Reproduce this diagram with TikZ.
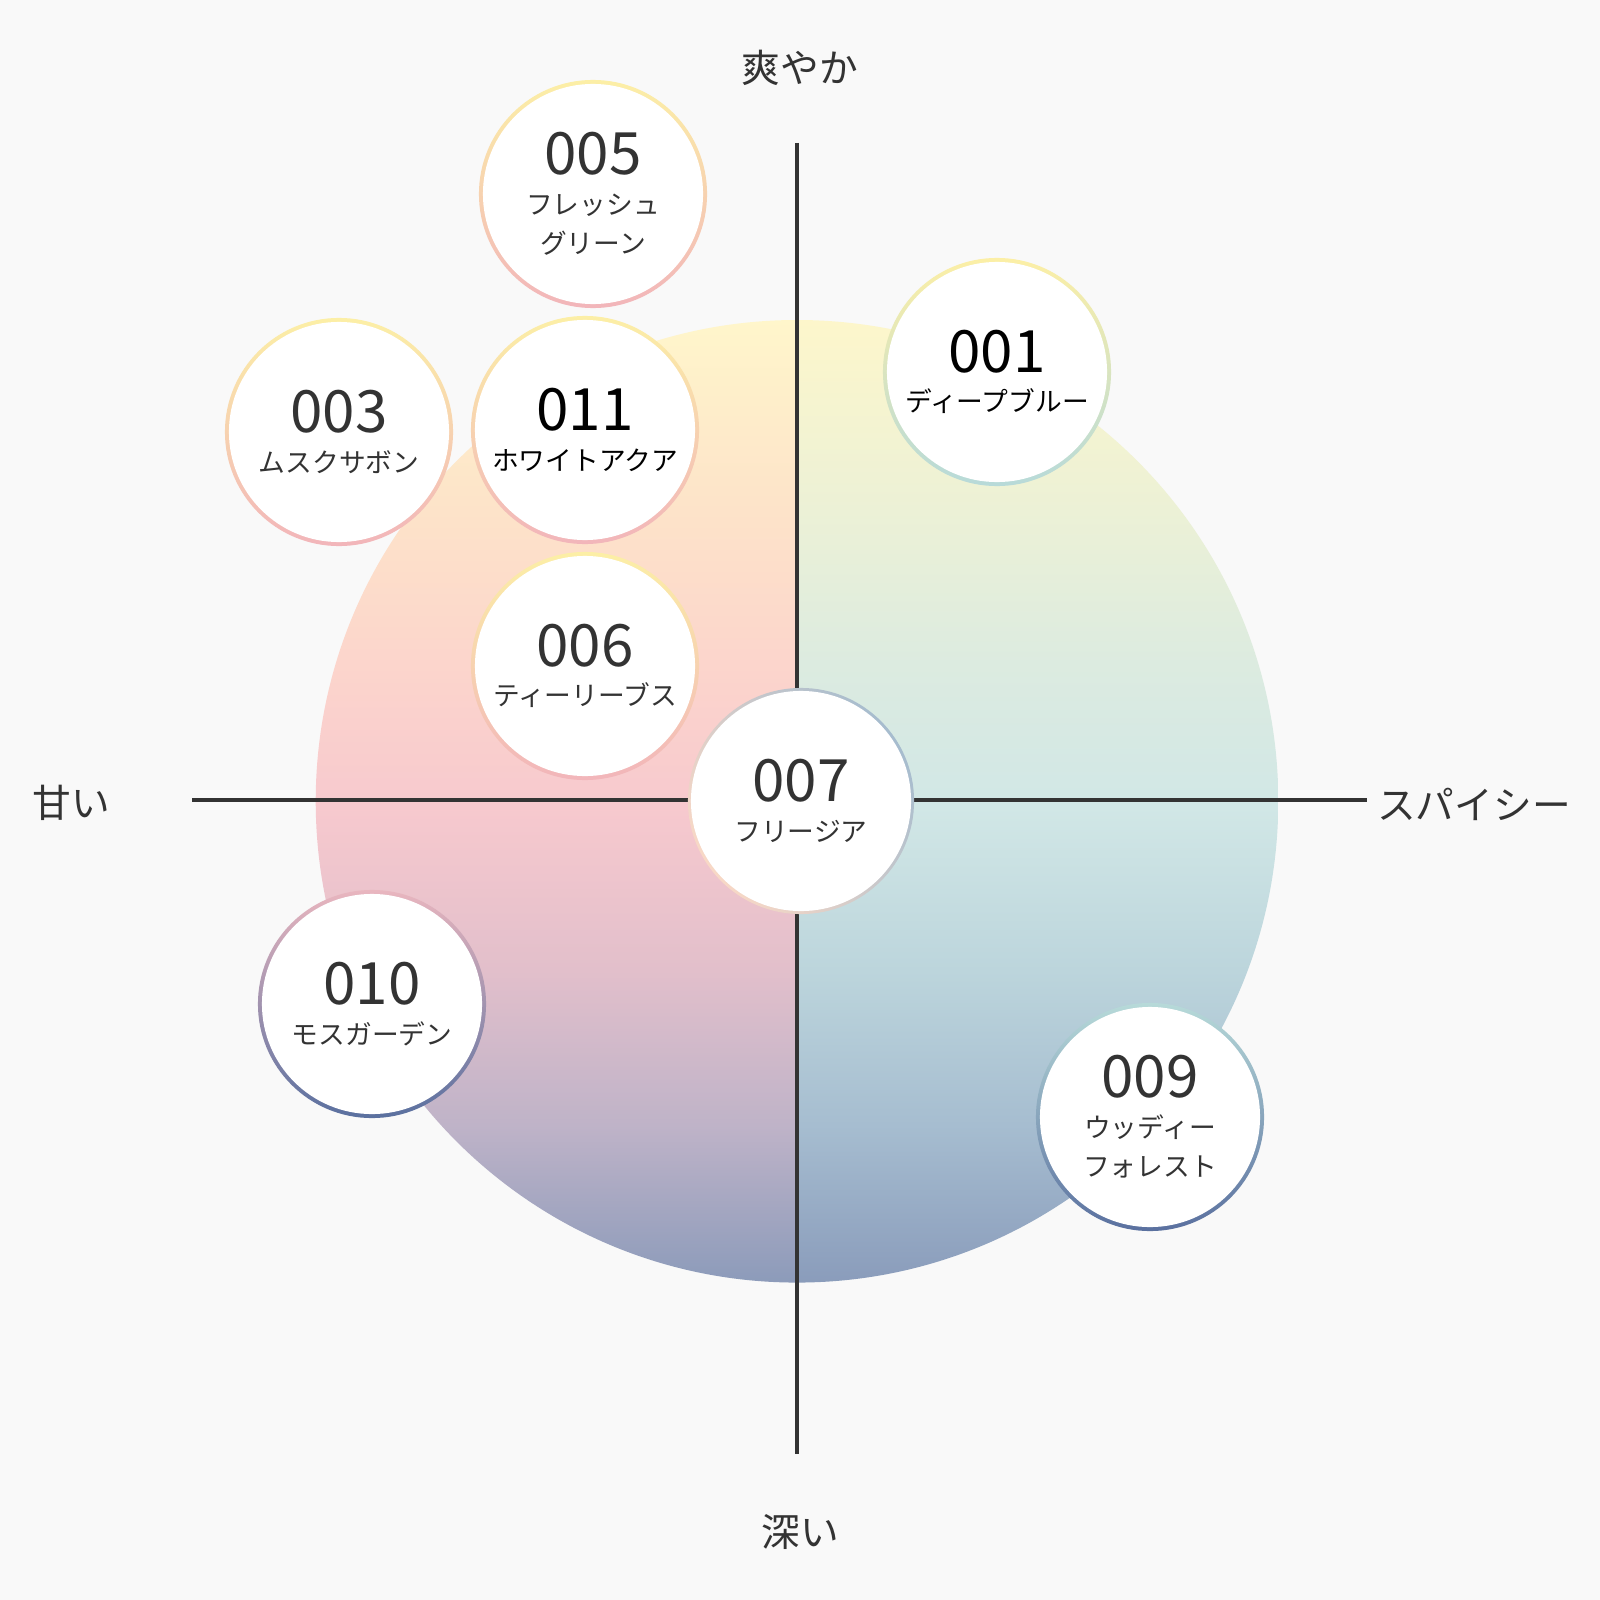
\documentclass[tikz,border=0pt]{standalone}
\usepackage{fontspec}
\setmainfont{Noto Sans CJK JP}
\usetikzlibrary{positioning}
\definecolor{paper}{HTML}{F9F9F9}
\definecolor{ink}{HTML}{333333}
\definecolor{ringyellow}{HTML}{FCEFA6}
\definecolor{ringpink}{HTML}{F2B5BA}
\definecolor{ringteal}{HTML}{B7DAD9}
\definecolor{ringblue}{HTML}{5A709F}
\definecolor{ringrose}{HTML}{E9B6BF}
\definecolor{ringpeach}{HTML}{F8D8C6}
\definecolor{ringsteel}{HTML}{A6BCCE}
\definecolor{sw0}{HTML}{8C9BBA}
\definecolor{sw1}{HTML}{BFB3C8}
\definecolor{sw2}{HTML}{E2BFCB}
\definecolor{sw3}{HTML}{F7C9CE}
\definecolor{sw4}{HTML}{FCD5CC}
\definecolor{sw5}{HTML}{FDE3C9}
\definecolor{sw6}{HTML}{FFF6CB}
\definecolor{sp0}{HTML}{8A9CBB}
\definecolor{sp1}{HTML}{A6BDD0}
\definecolor{sp2}{HTML}{BCD5DC}
\definecolor{sp3}{HTML}{D1E7E6}
\definecolor{sp4}{HTML}{DCEBE0}
\definecolor{sp5}{HTML}{ECF1D6}
\definecolor{sp6}{HTML}{FDF6CB}
\pgfdeclareverticalshading{sweetfade}{100bp}{color(0bp)=(sw0); color(25bp)=(sw0);
  color(33.2bp)=(sw1); color(41.2bp)=(sw2); color(49.7bp)=(sw3);
  color(57.1bp)=(sw4); color(65.1bp)=(sw5); color(75bp)=(sw6); color(100bp)=(sw6)}
\pgfdeclareverticalshading{spicyfade}{100bp}{color(0bp)=(sp0); color(25bp)=(sp0);
  color(33.2bp)=(sp1); color(41.2bp)=(sp2); color(49.7bp)=(sp3);
  color(57.1bp)=(sp4); color(65.1bp)=(sp5); color(75bp)=(sp6); color(100bp)=(sp6)}
\newcommand{\bignum}{\fontsize{16.6}{16.6}\selectfont}

\begin{document}
\begin{tikzpicture}[x=0.01cm, y=-0.01cm,
  axis/.style={line width=1.3pt, ink},
  pole/.style={font=\fontsize{11}{13}\selectfont, text=ink, inner sep=0pt},
  scent/.style={circle, fill=white, minimum size=2.2cm, inner sep=0pt,
    align=center, text=ink, font=\fontsize{7.6}{11.2}\selectfont},
  warmring/.style={top color=ringyellow, bottom color=ringpink},
  fieldring/.style={top color=ringyellow, bottom color=ringteal},
  duskring/.style={top color=ringrose, bottom color=ringblue},
  woodring/.style={top color=ringteal, bottom color=ringblue},
  midring/.style={top color=ringsteel, bottom color=ringpeach, shading angle=-55}
]
\fill[paper] (0,0) rectangle (1600,1600);
\coordinate (hub) at (797,801);
\shade[shading=sweetfade] (hub) ++(0,-481)
  arc[start angle=90, end angle=270, radius=4.81cm] -- cycle;
\shade[shading=spicyfade] (hub) ++(0,-481)
  arc[start angle=90, end angle=-90, radius=4.81cm] -- cycle;
\coordinate (up) at (797,143);
\coordinate (down) at (797,1454);
\coordinate (west) at (192,800);
\coordinate (east) at (1367,800);
\draw[axis] (up) -- (down);
\draw[axis] (west) -- (east);
\node[pole] (fresh) at (800,68) {爽やか};
\node[pole] (deep) at (800,1532) {深い};
\node[pole] (sweet) at (71,803) {甘い};
\node[pole] (spicy) at (1474,804) {スパイシー};
\shade[warmring] (593,194) circle (1.14cm);
\node[scent] (s005) at (593,194) {{\bignum 005}\\フレッシュ\\グリーン};
\shade[warmring] (339,432) circle (1.14cm);
\node[scent] (s003) at (339,432) {{\bignum 003}\\ムスクサボン};
\shade[warmring] (585,430) circle (1.14cm);
\node[scent, text=black] (s011) at (585,430) {{\bignum 011}\\ホワイトアクア};
\shade[fieldring] (997,372) circle (1.14cm);
\node[scent, text=black] (s001) at (997,372) {{\bignum 001}\\ディープブルー};
\shade[warmring] (585,666) circle (1.14cm);
\node[scent] (s006) at (585,666) {{\bignum 006}\\ティーリーブス};
\shade[midring] (801,801) circle (1.13cm);
\node[scent] (s007) at (801,801) {{\bignum 007}\\フリージア};
\shade[duskring] (372,1004) circle (1.14cm);
\node[scent] (s010) at (372,1004) {{\bignum 010}\\モスガーデン};
\shade[woodring] (1150,1117) circle (1.14cm);
\node[scent] (s009) at (1150,1117) {{\bignum 009}\\ウッディー\\フォレスト};
\end{tikzpicture}
\end{document}
